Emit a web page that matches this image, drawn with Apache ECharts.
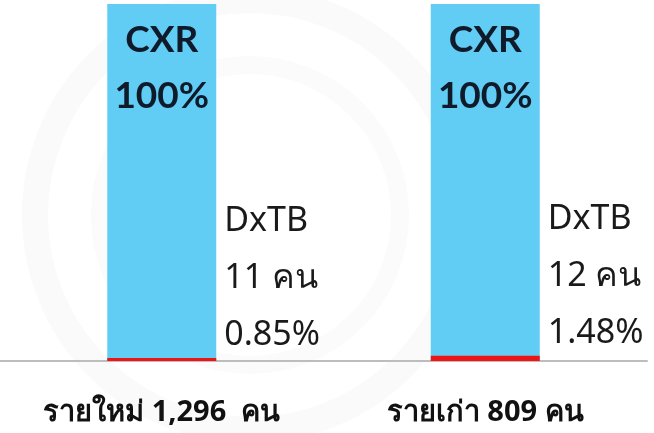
<!DOCTYPE html>
<html>
<head>
<meta charset="utf-8">
<script src="https://cdn.jsdelivr.net/npm/echarts@6/dist/echarts.min.js"></script>
<style>
  html, body { margin: 0; padding: 0; background: #fff; }
  #chart { width: 654px; height: 433px; }
</style>
</head>
<body>
<div id="chart"></div>
<script>
// groups screened, with totals in the label
var categories = ['รายใหม่ 1,296  คน', 'รายเก่า 809 คน'];
var cxrPct = [100, 100];
var dxtbPct = [0.85, 1.48];
var dxtbCount = [11, 12];

var chart = echarts.init(document.getElementById('chart'));
chart.setOption({
  animation: false,
  backgroundColor: '#fff',
  graphic: [
    { type: 'circle', shape: { cx: 250, cy: 215, r: 215 }, style: { fill: 'none', stroke: '#fafafa', lineWidth: 26 }, z: -10 },
    { type: 'circle', shape: { cx: 250, cy: 215, r: 150 }, style: { fill: 'none', stroke: '#fbfbfb', lineWidth: 18 }, z: -10 }
  ],
  grid: { left: -9, right: 7, top: 4, bottom: 72 },
  xAxis: {
    type: 'category',
    data: categories,
    axisLine: { lineStyle: { color: '#bdbdbd', width: 2 } },
    axisTick: { show: false },
    axisLabel: {
      color: '#111',
      fontSize: 29,
      fontWeight: 'bold',
      fontFamily: 'Noto Sans, sans-serif',
      margin: 37
    }
  },
  yAxis: { type: 'value', min: 0, max: 100, show: false, splitLine: { show: false } },
  series: [
    {
      name: 'CXR',
      type: 'bar',
      barWidth: 109,
      data: cxrPct,
      itemStyle: { color: '#62cdf4' },
      label: {
        show: true,
        position: 'insideTop',
        distance: 8,
        formatter: function (p) { return 'CXR\n' + p.value + '%'; },
        color: '#0f1a2b',
        fontSize: 37,
        fontWeight: 'bold',
        lineHeight: 56,
        fontFamily: 'Lato, sans-serif'
      }
    },
    {
      name: 'DxTB',
      type: 'bar',
      barWidth: 109,
      barGap: '-100%',
      data: dxtbPct,
      itemStyle: { color: '#ee1414' },
      label: {
        show: true,
        position: ['100%', 0],
        offset: [8, 6],
        align: 'left',
        verticalAlign: 'bottom',
        formatter: function (p) {
          return 'DxTB\n' + dxtbCount[p.dataIndex] + ' คน\n' + p.value.toFixed(2) + '%';
        },
        color: '#1a1a1a',
        fontSize: 34,
        lineHeight: 57,
        fontFamily: 'Noto Sans, sans-serif'
      }
    }
  ]
});
</script>
</body>
</html>
